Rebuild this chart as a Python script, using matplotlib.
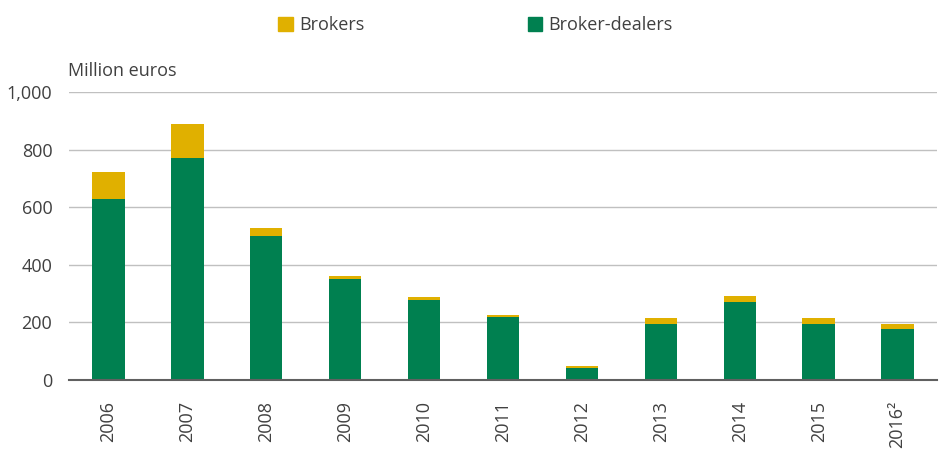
import matplotlib
matplotlib.use("Agg")
import matplotlib.pyplot as plt
from matplotlib.patches import Patch

years = ["2006", "2007", "2008", "2009", "2010", "2011", "2012", "2013", "2014", "2015", "2016²"]
broker_dealers = [629, 772, 500, 352, 279, 220, 42, 195, 272, 195, 178]
brokers = [94, 118, 28, 10, 10, 6, 7, 21, 21, 21, 17]

GREEN = "#008050"
YELLOW = "#E0B000"
TEXT = "#404040"

plt.rcParams['font.family'] = ['Open Sans', 'DejaVu Sans']

fig = plt.figure(figsize=(9.39, 4.59), dpi=100)
ax = fig.add_axes([69/939, 1 - 380/459, (937-69)/939, (380-92)/459])

x = list(range(len(years)))
ax.bar(x, broker_dealers, width=0.41, color=GREEN, zorder=3)
ax.bar(x, brokers, width=0.41, bottom=broker_dealers, color=YELLOW, zorder=3)

ax.set_xlim(-0.5, len(years) - 0.5)
ax.set_ylim(0, 1000)
ax.set_yticks([0, 200, 400, 600, 800, 1000])
ax.set_yticklabels(["0", "200", "400", "600", "800", "1,000"])
ax.set_xticks(x)
ax.set_xticklabels(years, rotation=90)
ax.tick_params(axis='y', length=0, pad=12, labelsize=13, labelcolor=TEXT)
ax.tick_params(axis='x', length=0, pad=15, labelsize=13, labelcolor=TEXT)
for lbl in ax.get_xticklabels():
    lbl.set_verticalalignment('top')

ax.grid(axis='y', color="#c0c0c0", linewidth=1, zorder=0)
for s in ['top', 'right', 'left']:
    ax.spines[s].set_visible(False)
ax.spines['bottom'].set_color("#606060")
ax.spines['bottom'].set_linewidth(1.5)
ax.spines['bottom'].set_zorder(4)

fig.text(68/939, 1 - 71/459, "Million euros", fontsize=13, color=TEXT, va='center', ha='left')

handles = [Patch(color=YELLOW, label="Brokers"), Patch(color=GREEN, label="Broker-dealers")]
fig.legend(handles=handles, loc='center left', bbox_to_anchor=(262/939, 1 - 25/459),
           ncol=2, frameon=False, fontsize=13, labelcolor=TEXT,
           handlelength=0.8, handleheight=0.8, handletextpad=0.35, columnspacing=9.05)

fig.savefig("out.png", dpi=100)
